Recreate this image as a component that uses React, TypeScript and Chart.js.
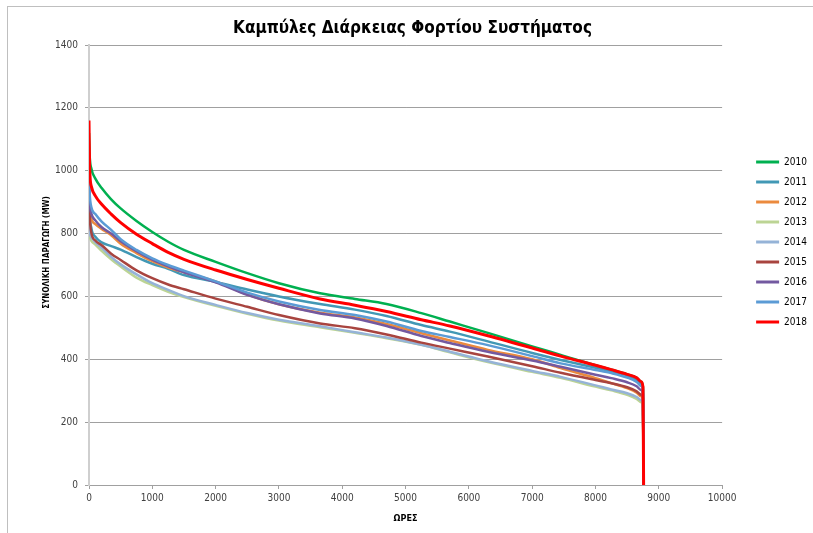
import React, { useEffect, useRef } from 'react';
import { Chart, registerables } from 'chart.js';

Chart.register(...registerables);

const TITLE = 'Καμπύλες Διάρκειας Φορτίου Συστήματος';
const X_TITLE = 'ΩΡΕΣ';
const Y_TITLE = 'ΣΥΝΟΛΙΚΗ ΠΑΡΑΓΩΓΗ (MW)';

const YEARS = ['2010', '2011', '2012', '2013', '2014', '2015', '2016', '2017', '2018'];
const COLORS = ['#00B050', '#4298B5', '#EB8A3E', '#BCD494', '#95B3D7', '#A8443F', '#7359A0', '#5B9BD5', '#FF0000'];

const HOURS = [0, 10, 40, 100, 200, 350, 500, 750, 1000, 1250, 1500, 2000, 2500, 3000, 3650, 4200, 4700, 5250, 5700, 6300, 7000, 7450, 8000, 8250, 8500, 8650, 8720, 8750, 8760];

const Y2010 = [1120, 1050, 1005, 975, 945, 909, 880, 840, 805, 774, 748, 710, 674, 642, 610, 592, 576, 547, 520, 484, 441, 414, 381, 367, 352, 341, 329, 312, 0];
const Y2011 = [950, 870, 815, 790, 772, 760, 749, 725, 704, 688, 668, 646, 622, 600, 576, 558, 538, 509, 488, 457, 420, 398, 373, 362, 348, 334, 320, 305, 0];
const Y2012 = [940, 880, 845, 830, 815, 795, 768, 738, 712, 692, 677, 648, 606, 575, 548, 533, 512, 483, 460, 430, 400, 372, 340, 324, 308, 294, 282, 270, 0];
const Y2013 = [800, 790, 776, 765, 745, 718, 695, 660, 636, 615, 598, 570, 545, 523, 502, 484, 467, 446, 422, 391, 360, 341, 313, 301, 287, 274, 263, 252, 0];
const Y2014 = [960, 810, 787, 773, 755, 726, 702, 670, 642, 621, 601, 573, 547, 526, 505, 486, 469, 446, 424, 394, 363, 344, 317, 304, 292, 280, 270, 260, 0];
const Y2015 = [930, 860, 800, 778, 763, 736, 716, 683, 658, 638, 623, 593, 567, 541, 514, 499, 479, 453, 434, 409, 378, 357, 334, 324, 311, 298, 287, 276, 0];
const Y2016 = [960, 900, 862, 842, 820, 800, 776, 744, 717, 696, 677, 645, 605, 575, 546, 530, 506, 474, 452, 424, 396, 376, 351, 340, 327, 314, 302, 290, 0];
const Y2017 = [990, 930, 882, 862, 838, 812, 782, 748, 721, 700, 682, 648, 612, 584, 557, 541, 520, 490, 471, 445, 410, 387, 366, 356, 342, 328, 315, 300, 0];
const Y2018 = [1160, 1010, 948, 920, 893, 862, 835, 798, 768, 740, 718, 684, 654, 626, 592, 572, 552, 526, 506, 475, 436, 410, 381, 367, 352, 341, 329, 312, 0];

const X_MIN = 0;
const X_MAX = 10000;
const X_STEP = 1000;
const Y_MIN = 0;
const Y_MAX = 1400;
const Y_STEP = 200;

const FONT = "'DejaVu Sans Condensed', 'Liberation Sans', sans-serif";

export default function App() {
  const ref = useRef<HTMLCanvasElement>(null);

  useEffect(() => {
    const series = [Y2010, Y2011, Y2012, Y2013, Y2014, Y2015, Y2016, Y2017, Y2018];
    const chart = new Chart(ref.current as HTMLCanvasElement, {
      type: 'line',
      data: {
        datasets: YEARS.map((label, i) => ({
          label,
          data: HOURS.map((h, j) => ({ x: h, y: series[i][j] })),
          borderColor: COLORS[i],
          backgroundColor: COLORS[i],
          borderWidth: i === 8 ? 3 : 2.5,
          pointRadius: 0,
          cubicInterpolationMode: 'monotone',
          borderJoinStyle: 'round',
          order: 8 - i,
          yAxisID: 'y',
        })),
      },
      options: {
        responsive: false,
        animation: false,
        layout: { padding: { left: 0, right: 3, top: 0, bottom: 0 } },
        plugins: {
          title: {
            display: true,
            text: TITLE,
            color: '#000',
            font: { family: FONT, size: 17, weight: 'bold' },
            padding: { top: 11, bottom: 6.6 },
          },
          legend: {
            position: 'right',
            align: 'start',
            labels: {
              boxWidth: 23,
              boxHeight: 3,
              padding: 10,
              color: '#000',
              font: { family: FONT, size: 10 },
              sort: (a: any, b: any) => a.datasetIndex - b.datasetIndex,
              generateLabels: (c: any) =>
                (Chart.defaults.plugins.legend.labels.generateLabels as any)(c).map((l: any) => ({
                  ...l,
                  fillStyle: l.strokeStyle,
                  lineWidth: 0,
                })),
            },
            title: { display: true, text: '', padding: { top: 128, bottom: 0 }, font: { size: 10 } },
          },
          tooltip: { enabled: false },
        },
        scales: {
          x: {
            type: 'linear',
            min: X_MIN,
            max: X_MAX,
            ticks: {
              stepSize: X_STEP,
              padding: 3,
              color: '#404040',
              font: { family: FONT, size: 10 },
              maxRotation: 0,
              callback: (v: any) => String(v),
            },
            grid: { drawOnChartArea: false, drawTicks: true, tickLength: 4, color: '#a0a0a0' },
            border: { color: '#a0a0a0', width: 1 },
            title: {
              display: true,
              text: X_TITLE,
              color: '#000',
              font: { family: FONT, size: 9, weight: 'bold' },
              padding: { top: 0, bottom: 9 },
            },
            afterFit: (s: any) => {
              s.height = 48;
            },
          },
          y: {
            type: 'linear',
            min: Y_MIN,
            max: Y_MAX,
            ticks: {
              stepSize: Y_STEP,
              padding: 7,
              color: '#404040',
              font: { family: FONT, size: 10 },
              callback: (v: any) => String(v),
            },
            grid: { color: '#a0a0a0', tickLength: 4 },
            border: { color: '#cfcfcf', width: 2 },
            title: {
              display: true,
              text: '\u00a0'.repeat(10) + Y_TITLE,
              color: '#000',
              font: { family: FONT, size: 8, weight: 'bold' },
              padding: { top: 34, bottom: 0 },
            },
            afterFit: (s: any) => {
              s.width = 81;
            },
          },
          yR: {
            type: 'linear',
            position: 'right',
            min: 0,
            max: 1,
            display: true,
            ticks: { display: false },
            grid: { display: false },
            border: { display: false },
            afterFit: (s: any) => {
              s.width = 24;
            },
          },
        },
      } as any,
    });
    return () => chart.destroy();
  }, []);

  return (
    <div style={{ position: 'fixed', left: 0, top: 0, width: 813, height: 533, overflow: 'hidden', background: '#fff' }}>
      <div
        style={{
          position: 'absolute',
          left: 7,
          top: 6,
          width: 900,
          height: 600,
          borderTop: '1px solid #bfbfbf',
          borderLeft: '1px solid #bfbfbf',
        }}
      >
        <canvas ref={ref} width={812} height={526} style={{ display: 'block', width: 812, height: 526 }} />
      </div>
    </div>
  );
}
